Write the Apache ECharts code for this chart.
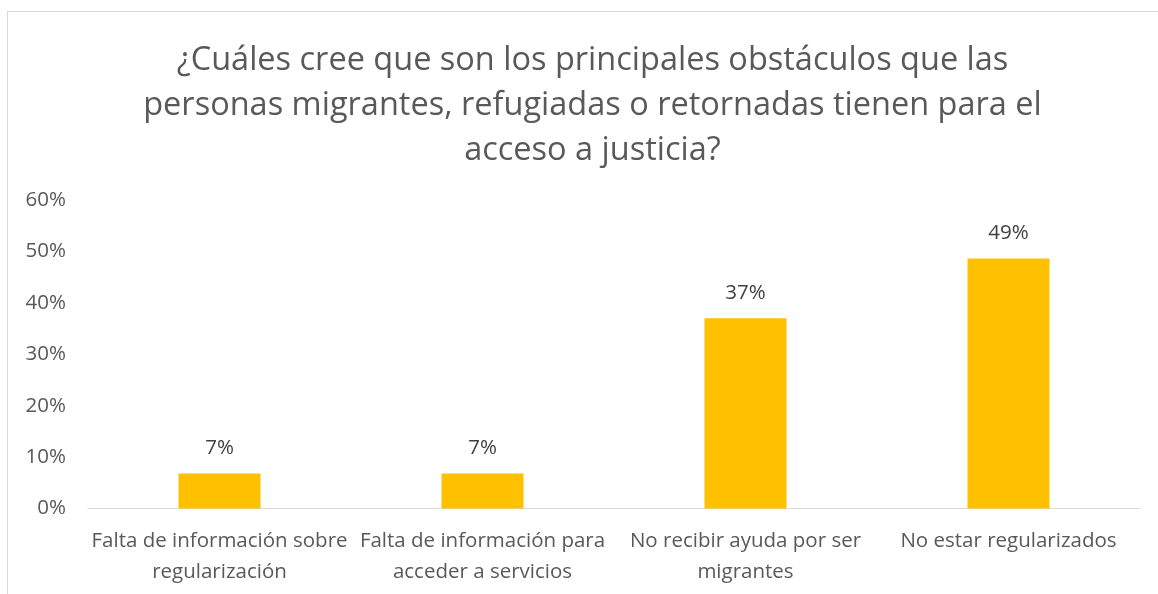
<!DOCTYPE html>
<html>
<head>
<meta charset="utf-8">
<script src="https://cdn.jsdelivr.net/npm/echarts@6/dist/echarts.min.js"></script>
<style>html,body{margin:0;padding:0;background:#fff;}#c{width:1158px;height:594px;}</style>
</head>
<body>
<div id="c"></div>
<script>
const titleText = '¿Cuáles cree que son los principales obstáculos que las\npersonas migrantes, refugiadas o retornadas tienen para el\nacceso a justicia?';
const categories = ['Falta de información sobre\nregularización', 'Falta de información para\nacceder a servicios', 'No recibir ayuda por ser\nmigrantes', 'No estar regularizados'];
const values = [0.068, 0.068, 0.37, 0.486];
const yTicks = [0, 0.1, 0.2, 0.3, 0.4, 0.5, 0.6];

const FONT = 'Open Sans';
const chart = echarts.init(document.getElementById('c'), null, {renderer: 'canvas'});
chart.setOption({
  animation: false,
  backgroundColor: '#fff',
  title: {
    text: titleText,
    left: 587.5,
    textAlign: 'center',
    top: 33,
    textStyle: {fontFamily: FONT, fontSize: 32.5, fontWeight: 'normal', color: '#595959', lineHeight: 45}
  },
  graphic: [
    {type: 'line', shape: {x1: 7.5, y1: 11.5, x2: 7.5, y2: 594}, style: {stroke: '#d9d9d9', lineWidth: 1}},
    {type: 'line', shape: {x1: 7, y1: 11.5, x2: 1158, y2: 11.5}, style: {stroke: '#d9d9d9', lineWidth: 1}}
  ],
  grid: {left: 88, right: 18, top: 200, bottom: 85.5, containLabel: false},
  xAxis: {
    type: 'category',
    data: categories,
    axisLine: {show: true, lineStyle: {color: '#d9d9d9', width: 1}},
    axisTick: {show: false},
    axisLabel: {fontFamily: FONT, fontSize: 20.5, color: '#595959', lineHeight: 31, margin: 17, interval: 0}
  },
  yAxis: {
    type: 'value',
    min: 0, max: 0.6, interval: 0.1,
    axisLine: {show: false},
    axisTick: {show: false},
    splitLine: {show: false},
    axisLabel: {fontFamily: FONT, fontSize: 20.5, color: '#595959', margin: 22,
      formatter: v => Math.round(v * 100) + '%'}
  },
  series: [{
    type: 'bar',
    data: values,
    barWidth: 82,
    itemStyle: {color: '#FFC000'},
    label: {show: true, position: 'top', distance: 15, fontFamily: FONT, fontSize: 20.5, color: '#404040',
      formatter: p => Math.round(p.value * 100) + '%'}
  }]
});
</script>
</body>
</html>
